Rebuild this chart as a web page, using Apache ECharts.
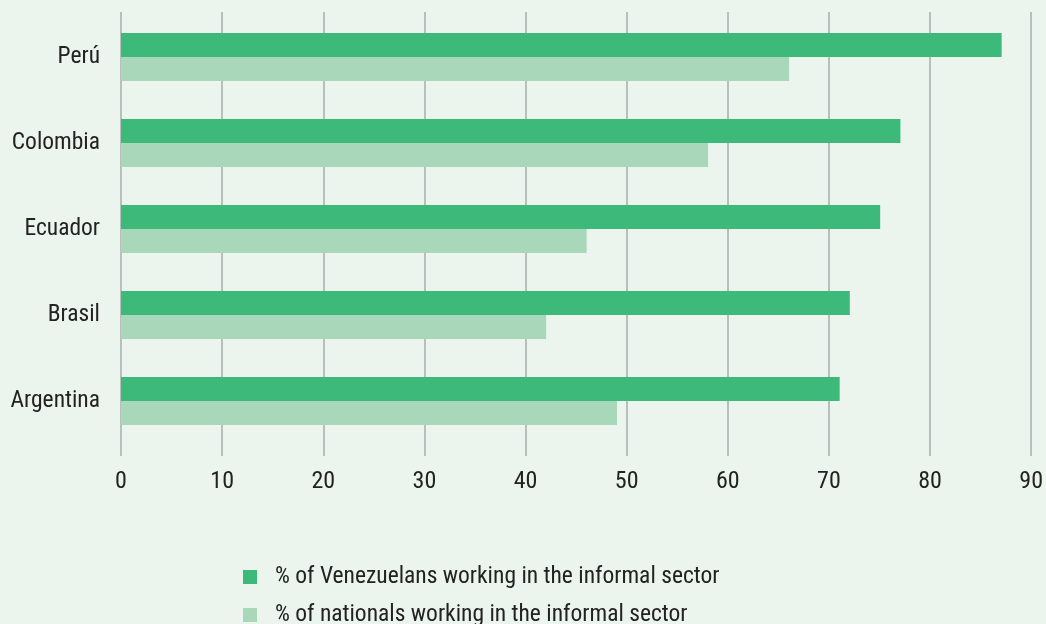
<!DOCTYPE html>
<html>
<head>
<meta charset="utf-8">
<script src="https://cdn.jsdelivr.net/npm/echarts@6/dist/echarts.min.js"></script>
<style>
html,body{margin:0;padding:0;background:#ebf5ee;}
#c{width:1046px;height:624px;}
</style>
</head>
<body>
<div id="c"></div>
<script>
const categories = ['Perú', 'Colombia', 'Ecuador', 'Brasil', 'Argentina'];
const venezuelans = [87, 77, 75, 72, 71];
const nationals = [66, 58, 46, 42, 49];
const seriesNames = ['% of Venezuelans working in the informal sector', '% of nationals working in the informal sector'];
const xTicks = [0, 10, 20, 30, 40, 50, 60, 70, 80, 90];

const FONT = "'Roboto Condensed','Liberation Sans Narrow','Roboto',sans-serif";
const chart = echarts.init(document.getElementById('c'));
chart.setOption({
  backgroundColor: '#ebf5ee',
  textStyle: { fontFamily: FONT },
  grid: [
    { left: 121, width: 911, top: 14, height: 430 },
    { left: 121, width: 911, top: 12, height: 444 }
  ],
  legend: {
    orient: 'vertical',
    left: 238,
    top: 560,
    height: 200,
    itemWidth: 14,
    itemHeight: 14,
    itemGap: 14,
    icon: 'rect',
    textStyle: { fontFamily: FONT, fontSize: 23.5, color: '#222', padding: [0, 0, 0, 13], lineHeight: 24 },
    data: seriesNames
  },
  xAxis: [
    { gridIndex: 0, type: 'value', min: xTicks[0], max: xTicks[xTicks.length - 1], interval: 10,
      axisLabel: { show: false }, splitLine: { show: false }, axisLine: { show: false }, axisTick: { show: false } },
    { gridIndex: 1, type: 'value', min: xTicks[0], max: xTicks[xTicks.length - 1], interval: 10,
      axisLabel: { show: true, fontFamily: FONT, fontSize: 24, color: '#222', margin: 14 },
      splitLine: { show: true, lineStyle: { color: '#a9adab', width: 1.5 } },
      axisLine: { show: false }, axisTick: { show: false } }
  ],
  yAxis: [
    { gridIndex: 0, type: 'category', data: categories, inverse: true,
      axisLabel: { fontFamily: FONT, fontSize: 23.5, color: '#222', margin: 21 },
      axisLine: { show: false }, axisTick: { show: false } },
    { gridIndex: 1, type: 'category', data: categories, inverse: true, show: false }
  ],
  series: [
    { name: seriesNames[0], type: 'bar', xAxisIndex: 0, yAxisIndex: 0, data: venezuelans,
      barWidth: 24, barGap: '0%', itemStyle: { color: '#3dba7a' } },
    { name: seriesNames[1], type: 'bar', xAxisIndex: 0, yAxisIndex: 0, data: nationals,
      barWidth: 24, barGap: '0%', itemStyle: { color: '#a8d8b9' } }
  ]
});
</script>
</body>
</html>
